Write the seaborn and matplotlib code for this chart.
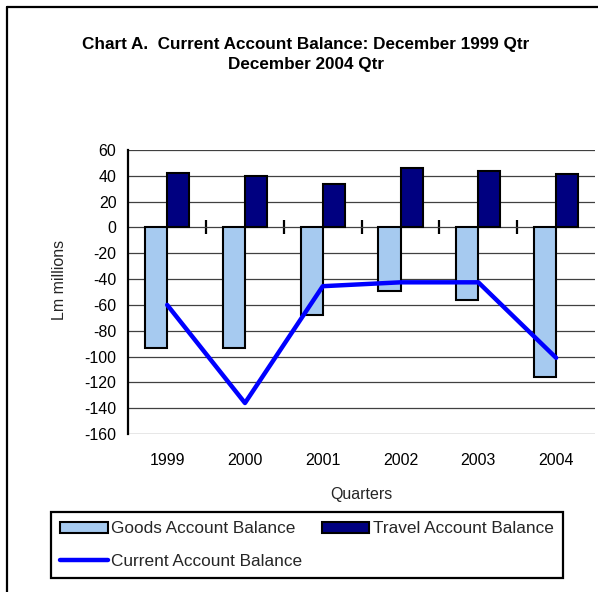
import numpy as np
import pandas as pd
import matplotlib
matplotlib.use("Agg")
import matplotlib.pyplot as plt
from matplotlib.patches import Patch
from matplotlib.lines import Line2D
import seaborn as sns

# ---- data ----
years = ["1999", "2000", "2001", "2002", "2003", "2004"]
goods = [-93, -93.5, -67.5, -49, -56, -115.5]
travel = [42, 40, 34, 46, 44, 41.5]
current = [-60, -136, -45.5, -42.5, -42.5, -101]
series_names = ["Goods Account Balance", "Travel Account Balance", "Current Account Balance"]
yticks = list(range(-160, 61, 20))

sns.set_theme(style="white")
plt.rcParams["font.family"] = ["Liberation Sans", "DejaVu Sans"]

W, H = 598, 592
fig = plt.figure(figsize=(W / 100, H / 100), dpi=100)

# outer frame (left and top edges visible)
fig.add_artist(Line2D([7 / W, 7 / W], [0, 1 - 7 / H], color="black", lw=1.6, transform=fig.transFigure))
fig.add_artist(Line2D([7 / W, 1], [1 - 7 / H, 1 - 7 / H], color="black", lw=1.6, transform=fig.transFigure))

# title
fig.text(306 / W, 1 - 44 / H, "Chart A.  Current Account Balance: December 1999 Qtr",
         ha="center", va="center", fontsize=12.3, fontweight="bold", color="black")
fig.text(306 / W, 1 - 64 / H, "December 2004 Qtr",
         ha="center", va="center", fontsize=12.3, fontweight="bold", color="black")

ax = fig.add_axes([128.3 / W, 1 - 434 / H, (595 - 128.3) / W, (434 - 150) / H])

df = pd.DataFrame({
    "Year": years * 2,
    "Series": [series_names[0]] * len(years) + [series_names[1]] * len(years),
    "Value": goods + travel,
})

ax.yaxis.grid(True, color="#404040", lw=0.9, zorder=0)
ax.set_axisbelow(True)

sns.barplot(data=df, x="Year", y="Value", hue="Series", hue_order=series_names[:2],
            order=years, palette=["#A6CAF0", "#000080"], saturation=1, width=0.57,
            edgecolor="black", linewidth=1.5, ax=ax, legend=False, zorder=2)

sns.lineplot(x=np.arange(len(years)), y=current, color="#0000FF", lw=3.2, ax=ax, zorder=3)

ax.set_xlim(-0.5, len(years) - 0.5)
ax.set_ylim(-160, 60)
ax.set_yticks(yticks)
ax.set_yticklabels([str(v) for v in yticks])
for s in ["top", "right", "bottom"]:
    ax.spines[s].set_visible(False)
ax.spines["left"].set_color("black")
ax.spines["left"].set_linewidth(1.6)
ax.tick_params(axis="y", direction="out", length=6.5, width=1.6, colors="black",
               labelsize=11.5, pad=2)
ax.tick_params(axis="x", length=0, labelsize=11.5, pad=14, colors="black")
ax.set_xlabel("")
ax.set_ylabel("")

# zero axis with category separators
sec = ax.secondary_xaxis(160 / 220)
sec.set_xticks(np.arange(len(years) - 1) + 0.5)
sec.set_xticklabels([])
sec.tick_params(direction="inout", length=9.5, width=1.6, colors="black")
sec.spines["bottom"].set_color("black")
sec.spines["bottom"].set_linewidth(1.6)
sec.spines["top"].set_visible(False)

fig.text(361 / W, 1 - 494 / H, "Quarters", ha="center", va="center", fontsize=11.5)
fig.text(59 / W, 1 - 280 / H, "Lm millions", ha="center", va="center", rotation=90, fontsize=11.5)

handles = [
    Patch(facecolor="#A6CAF0", edgecolor="black", lw=1.5),
    Line2D([], [], color="#0000FF", lw=3.2),
    Patch(facecolor="#000080", edgecolor="black", lw=1.5),
]
labels = [series_names[0], series_names[2], series_names[1]]
leg = fig.legend(handles, labels, ncol=2, loc="upper left",
                 bbox_to_anchor=(51 / W, 1 - 579 / H, (563 - 51) / W, (579 - 512) / H),
                 mode="expand", borderaxespad=0, fancybox=False, framealpha=1,
                 fontsize=12.4, handlelength=2.75, handleheight=0.6, handletextpad=0.2,
                 labelspacing=1.0, borderpad=0.55, columnspacing=0.5)
leg.get_frame().set_edgecolor("black")
leg.get_frame().set_linewidth(1.6)

fig.savefig("out.png", dpi=100, facecolor="white")
